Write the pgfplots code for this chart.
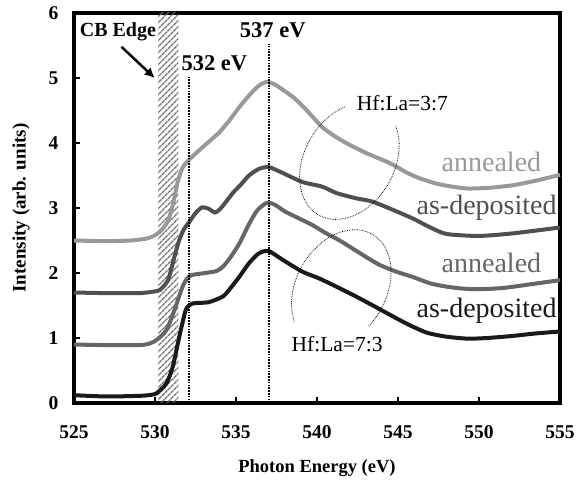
\documentclass[border=0pt]{standalone}
\usepackage{fontspec}
\setmainfont{Liberation Serif}
\usepackage{pgfplots}
\pgfplotsset{compat=1.18}
\usetikzlibrary{arrows.meta,calc,patterns.meta}

\definecolor{cA}{RGB}{153,153,153}
\definecolor{cB}{RGB}{80,80,80}
\definecolor{cC}{RGB}{102,102,102}
\definecolor{cD}{RGB}{26,26,26}

\begin{document}
\begin{tikzpicture}
\begin{axis}[
  name=ax,
  scale only axis, width=486pt, height=390pt,
  xmin=525, xmax=555, ymin=0, ymax=6,
  xtick={525,530,...,555}, ytick={0,1,...,6},
  tick align=inside, xtick pos=bottom, ytick pos=left,
  major tick length=6pt,
  tick style={black, line width=1.2pt},
  axis line style={line width=3.5pt},
  clip=false,
  /pgf/number format/assume math mode=true,
  ticklabel style={font=\bfseries\fontsize{19.5}{19.5}\selectfont},
  xticklabel style={yshift=-19pt},
  yticklabel style={xshift=-12pt},
  xlabel={Photon Energy (eV)},
  ylabel={Intensity (arb. units)},
  xlabel style={at={(axis description cs:0.5,-0.167)}, anchor=center, font=\bfseries\fontsize{18.5}{18.5}\selectfont},
  ylabel style={at={(axis description cs:-0.109,0.5)}, anchor=center, font=\bfseries\fontsize{19}{19}\selectfont},
  every axis plot/.append style={line width=4pt, smooth, tension=0.4, no marks},
]
% CB edge band
\fill[pattern={Lines[angle=45,distance=4pt,line width=1.5pt]}, pattern color=black!55]
  (axis cs:530.2,0) rectangle (axis cs:531.45,6);

% annealed, Hf:La=3:7
\addplot[cA] coordinates {
  (525,2.50) (527,2.49) (528.5,2.50) (529.5,2.53) (530.0,2.58) (530.4,2.66)
  (530.8,2.80) (531.1,3.05) (531.4,3.40) (531.7,3.62) (532.1,3.74) (532.6,3.86)
  (533.1,3.97) (533.6,4.08) (534.0,4.17) (534.6,4.35) (535.2,4.55) (535.8,4.73)
  (536.4,4.88) (536.9,4.94) (537.4,4.90) (538.0,4.80) (538.6,4.69) (539.3,4.52)
  (540.3,4.25) (541.0,4.12) (541.8,4.00) (543.0,3.85) (544.5,3.69) (545.5,3.55)
  (546.3,3.46) (547.3,3.38) (548.3,3.33) (549.3,3.30) (550.6,3.31) (552.1,3.35)
  (553.5,3.42) (555,3.51)
};
% as-deposited, Hf:La=3:7
\addplot[cB] coordinates {
  (525,1.70) (527,1.69) (529,1.69) (529.8,1.71) (530.3,1.74) (530.8,1.89)
  (531.2,2.25) (531.5,2.51) (531.8,2.68) (532.1,2.78) (532.5,2.92) (532.9,3.01)
  (533.3,2.99) (533.7,2.93) (534.0,2.98) (534.4,3.10) (534.8,3.23) (535.3,3.36)
  (535.8,3.50) (536.4,3.60) (537.0,3.63) (537.7,3.56) (539.1,3.40) (540.3,3.33)
  (541.2,3.23) (542.4,3.15) (543.4,3.10) (544.7,2.97) (545.9,2.84) (547.0,2.70)
  (548.0,2.60) (550.0,2.57) (552.1,2.61) (555,2.70)
};
% annealed, Hf:La=7:3
\addplot[cC] coordinates {
  (525,0.90) (527,0.89) (529,0.89) (529.6,0.91) (530.1,0.97) (530.7,1.12)
  (531.2,1.43) (531.7,1.79) (532.0,1.92) (532.3,1.97) (533.1,2.00) (533.8,2.03)
  (534.2,2.10) (534.6,2.22) (535.2,2.45) (535.8,2.75) (536.3,2.96) (536.9,3.08)
  (537.4,3.05) (538.0,2.95) (538.8,2.85) (539.7,2.74) (540.5,2.62) (541.4,2.50)
  (542.3,2.36) (543.2,2.22) (543.9,2.12) (544.9,2.02) (545.9,1.94) (547.0,1.84)
  (548.0,1.79) (549.0,1.76) (550.0,1.75) (551.5,1.77) (553.0,1.82) (555,1.89)
};
% as-deposited, Hf:La=7:3
\addplot[cD] coordinates {
  (525,0.12) (527,0.10) (529,0.11) (529.6,0.12) (530.1,0.15) (530.7,0.30)
  (531.1,0.56) (531.5,1.02) (531.9,1.43) (532.3,1.53) (533.3,1.55) (534.2,1.64)
  (534.7,1.78) (535.2,1.94) (535.8,2.15) (536.4,2.30) (537.0,2.34) (537.9,2.20)
  (539.1,2.02) (540.1,1.92) (541.2,1.79) (542.4,1.64) (543.6,1.48) (544.7,1.33)
  (545.7,1.20) (546.8,1.08) (548.0,1.02) (549.3,0.99) (550.5,1.00) (552.0,1.03)
  (553.5,1.07) (555,1.10)
};

% reference lines
\draw[line width=2.2pt, dash pattern=on 1.5pt off 1.3pt] (axis cs:532.1,0) -- (axis cs:532.1,5.02);
\draw[line width=2.2pt, dash pattern=on 1.5pt off 1.3pt] (axis cs:537.05,0) -- (axis cs:537.05,5.53);

% annotations
\node[anchor=west, inner sep=0, font=\bfseries\fontsize{20}{20}\selectfont] at (axis cs:525.35,5.71) {CB Edge};
\draw[line width=2.5pt, -{Latex[length=10pt,width=10pt]}] (axis cs:527.93,5.48) -- (axis cs:529.98,5.0);
\node[anchor=west, inner sep=0, font=\bfseries\fontsize{22.5}{22.5}\selectfont] at (axis cs:531.63,5.23) {532 eV};
\node[anchor=west, inner sep=0, font=\bfseries\fontsize{22.5}{22.5}\selectfont] at (axis cs:535.23,5.74) {537 eV};

\node[anchor=west, inner sep=0, font=\fontsize{21.5}{21.5}\selectfont] at (axis cs:542.45,4.62) {Hf:La=3:7};
\node[anchor=west, inner sep=0, font=\fontsize{21.5}{21.5}\selectfont] at (axis cs:538.42,0.90) {Hf:La=7:3};

\node[anchor=east, inner sep=0, text=cA, font=\fontsize{28}{28}\selectfont] at (axis cs:553.85,3.71) {annealed};
\node[anchor=east, inner sep=0, text=cB, font=\fontsize{28}{28}\selectfont] at (axis cs:554.8,3.00) {as-deposited};
\node[anchor=east, inner sep=0, text=cC, font=\fontsize{28}{28}\selectfont] at (axis cs:553.85,2.16) {annealed};
\node[anchor=east, inner sep=0, text=cD, font=\fontsize{28}{28}\selectfont] at (axis cs:554.8,1.42) {as-deposited};

\draw[line width=0.8pt, dash pattern=on 0.7pt off 1pt, rotate around={60:(axis cs:542.0,3.72)}]
  (axis cs:542.0,3.72) ++(44:62pt and 45pt) arc[start angle=44, end angle=330, x radius=62pt, y radius=45pt];
\draw[line width=0.8pt, dash pattern=on 0.7pt off 1pt, rotate around={60:(axis cs:541.5,1.77)}]
  (axis cs:541.5,1.77) ++(-108:62pt and 45pt) arc[start angle=-108, end angle=148, x radius=62pt, y radius=45pt];
\end{axis}
\path ($(ax.south west)+(-74pt,-76pt)$) rectangle ($(ax.north east)+(26pt,13pt)$);
\end{tikzpicture}
\end{document}
